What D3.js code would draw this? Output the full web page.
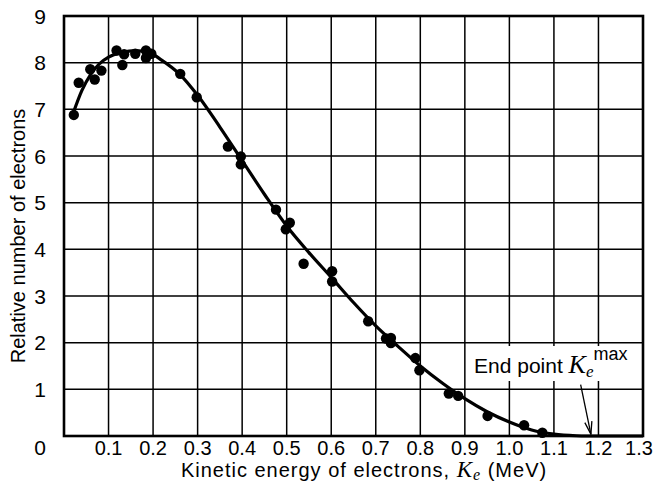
<!DOCTYPE html>
<html>
<head>
<meta charset="utf-8">
<script src="https://cdn.jsdelivr.net/npm/d3@7"></script>
<style>
  html, body { margin: 0; padding: 0; background: #fff; }
  svg text { font-family: "Liberation Sans", Arial, sans-serif; fill: #000; }
</style>
</head>
<body>
<svg id="chart" width="656" height="495"></svg>
<script>
// ---- data ----
const xTicks = [0.1, 0.2, 0.3, 0.4, 0.5, 0.6, 0.7, 0.8, 0.9, 1.0, 1.1, 1.2, 1.3];
const xTickLabels = ["0.1","0.2","0.3","0.4","0.5","0.6","0.7","0.8","0.9","1.0","1.1","1.2","1.3"];
const yTicks = [0, 1, 2, 3, 4, 5, 6, 7, 8, 9];

// measured points (kinetic energy MeV, relative number)
const pointX = [0.022, 0.033, 0.059, 0.069, 0.084, 0.118, 0.131, 0.135, 0.160, 0.184, 0.184, 0.196,
                0.261, 0.298, 0.368, 0.397, 0.397, 0.476, 0.498, 0.507, 0.538, 0.602, 0.602,
                0.683, 0.723, 0.734, 0.734, 0.789, 0.798, 0.864, 0.885, 0.951, 1.033, 1.074];
const pointY = [6.88, 7.57, 7.86, 7.64, 7.83, 8.26, 7.95, 8.18, 8.19, 8.26, 8.10, 8.19,
                7.76, 7.26, 6.20, 5.99, 5.82, 4.85, 4.43, 4.57, 3.69, 3.53, 3.31,
                2.46, 2.09, 2.10, 1.99, 1.67, 1.41, 0.91, 0.86, 0.43, 0.23, 0.07];

// smooth theoretical curve
const curveX = [0.02, 0.04, 0.06, 0.08, 0.10, 0.13, 0.16, 0.19, 0.22, 0.26, 0.30, 0.35, 0.40, 0.45,
                0.50, 0.55, 0.60, 0.65, 0.70, 0.75, 0.80, 0.85, 0.90, 0.95, 1.00, 1.05, 1.10, 1.15, 1.17, 1.30];
const curveY = [6.90, 7.40, 7.75, 7.98, 8.12, 8.22, 8.26, 8.22, 8.05, 7.75, 7.30, 6.62, 5.90, 5.18,
                4.50, 3.93, 3.40, 2.86, 2.36, 1.92, 1.50, 1.13, 0.80, 0.52, 0.30, 0.13, 0.04, 0.005, 0, 0];

// annotation arrow (data coords)
const arrowFrom = [1.160, 1.10];
const arrowTo = [1.183, 0.04];

// ---- drawing ----
const svg = d3.select("#chart");
const x = d3.scaleLinear().domain([0, 1.3]).range([64, 643]);
const y = d3.scaleLinear().domain([0, 9]).range([436, 16]);

// grid
const grid = svg.append("g");
grid.selectAll("line.v").data(xTicks.slice(0, -1)).join("line")
  .attr("x1", d => x(d)).attr("x2", d => x(d))
  .attr("y1", y(0)).attr("y2", y(9))
  .attr("stroke", "#000").attr("stroke-width", 1.5);
grid.selectAll("line.h").data(yTicks.slice(1, -1)).join("line")
  .attr("x1", x(0)).attr("x2", x(1.3))
  .attr("y1", d => y(d)).attr("y2", d => y(d))
  .attr("stroke", "#000").attr("stroke-width", 1.5);

// curve
const line = d3.line().x(d => x(d[0])).y(d => y(d[1])).curve(d3.curveMonotoneX);
svg.append("path")
  .datum(curveX.map((v, i) => [v, curveY[i]]))
  .attr("d", line)
  .attr("fill", "none").attr("stroke", "#000").attr("stroke-width", 3.2);

svg.append("rect")
  .attr("x", x(0)).attr("y", y(9))
  .attr("width", x(1.3) - x(0)).attr("height", y(0) - y(9))
  .attr("fill", "none").attr("stroke", "#000").attr("stroke-width", 2.6);

// points
svg.append("g").selectAll("circle").data(pointX.map((v, i) => [v, pointY[i]])).join("circle")
  .attr("cx", d => x(d[0])).attr("cy", d => y(d[1]))
  .attr("r", 5.2).attr("fill", "#000");

// x tick labels
svg.append("g").selectAll("text").data(xTicks).join("text")
  .attr("x", (d, i) => x(d) + (i === xTicks.length - 1 ? -4 : 0))
  .attr("y", 455)
  .attr("text-anchor", "middle")
  .attr("font-size", 20)
  .text((d, i) => xTickLabels[i]);

// y tick labels
svg.append("g").selectAll("text").data(yTicks).join("text")
  .attr("x", 40)
  .attr("y", d => d === 0 ? 455 : y(d) + 7.5)
  .attr("text-anchor", "middle")
  .attr("font-size", 21)
  .text(d => d);

// axis titles
const xt = svg.append("text").attr("x", 364).attr("y", 477).attr("text-anchor", "middle")
  .attr("font-size", 20).attr("letter-spacing", 1);
xt.append("tspan").text("Kinetic energy of electrons, ");
xt.append("tspan").attr("font-family", "Liberation Serif, serif").attr("font-style", "italic").attr("font-size", 23).text("K");
xt.append("tspan").attr("font-family", "Liberation Serif, serif").attr("font-style", "italic").attr("font-size", 16).attr("dy", 3).text("e");
xt.append("tspan").attr("dy", -3).text(" (MeV)");

svg.append("text")
  .attr("transform", "translate(25,236) rotate(-90)")
  .attr("text-anchor", "middle").attr("font-size", 20)
  .text("Relative number of electrons");

// annotation
const ag = svg.append("g");
const bg = ag.append("rect").attr("fill", "#fff");
const at = ag.append("text").attr("x", 474).attr("y", 373).attr("font-size", 21);
at.append("tspan").text("End point ");
at.append("tspan").attr("font-family", "Liberation Serif, serif").attr("font-style", "italic").attr("font-size", 26).text("K");
at.append("tspan").attr("font-family", "Liberation Serif, serif").attr("font-style", "italic").attr("font-size", 17).attr("dy", 4).text("e");
at.append("tspan").attr("font-size", 18).attr("dy", -17).text("max");
const bb = at.node().getBBox();
bg.attr("x", bb.x - 2).attr("y", bb.y + 2).attr("width", bb.width + 4).attr("height", bb.height - 2);

const ax1 = x(arrowFrom[0]), ay1 = y(arrowFrom[1]), ax2 = x(arrowTo[0]), ay2 = y(arrowTo[1]);
svg.append("line").attr("x1", ax1).attr("y1", ay1).attr("x2", ax2).attr("y2", ay2)
  .attr("stroke", "#000").attr("stroke-width", 1.3);
const ang = Math.atan2(ay2 - ay1, ax2 - ax1);
const hl = 13, ha = 0.28;
svg.append("path")
  .attr("d", `M${ax2 - hl * Math.cos(ang - ha)},${ay2 - hl * Math.sin(ang - ha)} L${ax2},${ay2} L${ax2 - hl * Math.cos(ang + ha)},${ay2 - hl * Math.sin(ang + ha)}`)
  .attr("fill", "none").attr("stroke", "#000").attr("stroke-width", 1.3);
</script>
</body>
</html>
